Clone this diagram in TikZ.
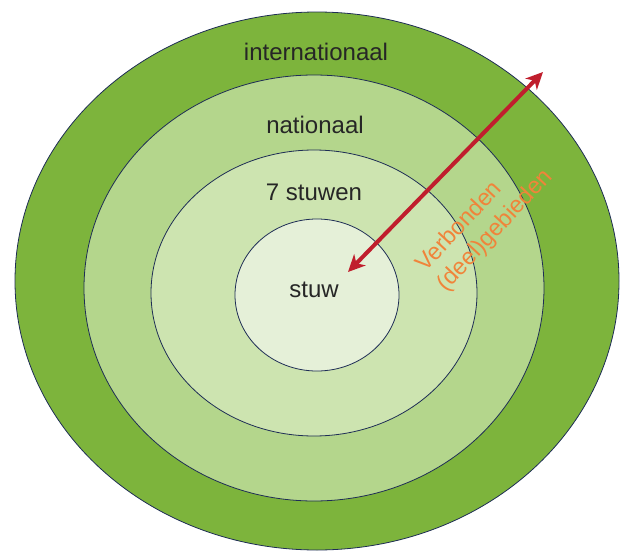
\documentclass[tikz,border=0pt]{standalone}
\usepackage{fontspec}
\setmainfont{Liberation Sans}
\usetikzlibrary{arrows.meta}

\definecolor{ringdark}{RGB}{125,180,60}
\definecolor{ringmid}{RGB}{180,214,140}
\definecolor{ringlight}{RGB}{205,228,176}
\definecolor{ringcore}{RGB}{229,240,216}
\definecolor{ringedge}{RGB}{30,45,85}
\definecolor{linkred}{RGB}{192,30,45}
\definecolor{linkorange}{RGB}{240,132,58}

\tikzset{
  ring/.style={draw=ringedge,line width=0.8pt},
  ringlabel/.style={font=\fontsize{24}{28}\selectfont,text=black!85,inner sep=0pt}
}

\begin{document}
\begin{tikzpicture}[x=1pt,y=-1pt,>={Stealth[length=17pt,width=16pt,inset=5pt]}]
\useasboundingbox (0,0) rectangle (622,552);
% ---------- rings ----------
\draw[ring,fill=ringdark] (317,281) ellipse (302 and 269);
\draw[ring,fill=ringmid] (314,288) ellipse (230 and 213);
\draw[ring,fill=ringlight] (314,293) ellipse (163 and 143);
\draw[ring,fill=ringcore] (317,295) ellipse (82 and 76);
% ---------- labels ----------
\node[ringlabel] (intl) at (316,52) {internationaal};
\node[ringlabel] (natl) at (315,125) {nationaal};
\node[ringlabel] (seven) at (314,192) {7 stuwen};
\node[ringlabel] (stuw) at (314,290) {stuw};
% ---------- connected areas ----------
\coordinate (inner) at (348,272);
\coordinate (outer) at (543,72);
\draw[<->,linkred,line width=4pt] (inner) -- (outer);
\node[font=\fontsize{23.5}{29}\selectfont,text=linkorange,align=left,
  rotate=47,inner sep=0pt] (link) at (485,221) {Verbonden\\(deel)gebieden};
\end{tikzpicture}
\end{document}
